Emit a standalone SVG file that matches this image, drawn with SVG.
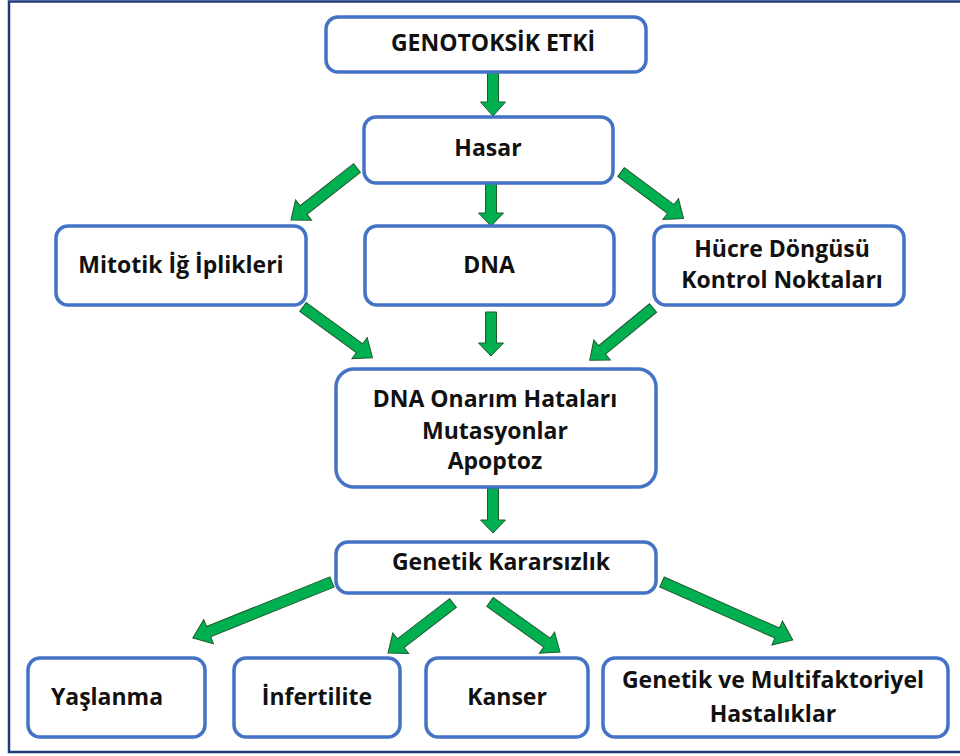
<svg xmlns="http://www.w3.org/2000/svg" width="960" height="756" viewBox="0 0 960 756">
<style>
.box{fill:#fff;stroke:#4472C4;stroke-width:3.5}
.t{font-family:"Open Sans","Liberation Sans",sans-serif;font-weight:bold;font-size:23px;fill:#111;text-anchor:middle}
.arr{fill:#00B050;stroke:#1e5a2e;stroke-width:1}
</style>
<rect x="0" y="0" width="960" height="756" fill="#fff"/>
<rect x="9" y="1.5" width="960" height="750.5" fill="none" stroke="#1F3A7A" stroke-width="2.5"/>
<g id="connectors">
<polygon class="arr" transform="translate(493,72) rotate(90)" points="0,-5.5 30,-5.5 30,-12.5 44,0 30,12.5 30,5.5 0,5.5"/>
<polygon class="arr" transform="translate(357,168) rotate(141.8)" points="0,-5.5 68,-5.5 68,-13 84,0 68,13 68,5.5 0,5.5"/>
<polygon class="arr" transform="translate(491,183) rotate(90)" points="0,-5.5 30,-5.5 30,-12.5 43,0 30,12.5 30,5.5 0,5.5"/>
<polygon class="arr" transform="translate(621,172) rotate(36.7)" points="0,-5.5 62,-5.5 62,-13 78,0 62,13 62,5.5 0,5.5"/>
<polygon class="arr" transform="translate(303,307) rotate(36.1)" points="0,-5.5 70,-5.5 70,-13 86,0 70,13 70,5.5 0,5.5"/>
<polygon class="arr" transform="translate(491,312) rotate(90)" points="0,-5.5 31,-5.5 31,-12.5 44,0 31,12.5 31,5.5 0,5.5"/>
<polygon class="arr" transform="translate(653,308) rotate(140.5)" points="0,-5.5 66,-5.5 66,-13 82,0 66,13 66,5.5 0,5.5"/>
<polygon class="arr" transform="translate(493,488) rotate(90)" points="0,-5.5 32,-5.5 32,-12.5 45,0 32,12.5 32,5.5 0,5.5"/>
<polygon class="arr" transform="translate(332,582) rotate(158.1)" points="0,-5.5 133,-5.5 133,-13 150,0 133,13 133,5.5 0,5.5"/>
<polygon class="arr" transform="translate(453,603) rotate(142.4)" points="0,-5.5 66,-5.5 66,-13 82,0 66,13 66,5.5 0,5.5"/>
<polygon class="arr" transform="translate(490,602) rotate(35.5)" points="0,-5.5 70,-5.5 70,-13 86,0 70,13 70,5.5 0,5.5"/>
<polygon class="arr" transform="translate(662,582) rotate(23.9)" points="0,-5.5 126,-5.5 126,-13 143,0 126,13 126,5.5 0,5.5"/>
</g>
<g id="genotoksik">
<rect class="box" x="326" y="17" width="320" height="55" rx="12"/>
<text class="t" x="493" y="51">GENOTOKSİK ETKİ</text>
</g>
<g id="hasar">
<rect class="box" x="364" y="117" width="249" height="66" rx="12"/>
<text class="t" x="488" y="156">Hasar</text>
</g>
<g id="mitotik">
<rect class="box" x="56" y="226" width="250" height="79" rx="12"/>
<text class="t" x="181" y="273">Mitotik İğ İplikleri</text>
</g>
<g id="dna">
<rect class="box" x="365" y="226" width="249" height="79" rx="12"/>
<text class="t" x="489" y="273">DNA</text>
</g>
<g id="hucre">
<rect class="box" x="654" y="226" width="250" height="79" rx="12"/>
<text class="t" x="782" y="257">Hücre Döngüsü</text>
<text class="t" x="782" y="288">Kontrol Noktaları</text>
</g>
<g id="onarim">
<rect class="box" x="336" y="369" width="320" height="118" rx="18"/>
<text class="t" x="495" y="407">DNA Onarım Hataları</text>
<text class="t" x="495" y="439">Mutasyonlar</text>
<text class="t" x="495" y="469">Apoptoz</text>
</g>
<g id="kararsizlik">
<rect class="box" x="336" y="542" width="320" height="51" rx="12"/>
<text class="t" x="501" y="570">Genetik Kararsızlık</text>
</g>
<g id="yaslanma">
<rect class="box" x="28" y="658" width="177" height="79" rx="12"/>
<text class="t" x="107" y="705">Yaşlanma</text>
</g>
<g id="infertilite">
<rect class="box" x="234" y="658" width="166" height="79" rx="12"/>
<text class="t" x="317" y="705">İnfertilite</text>
</g>
<g id="kanser">
<rect class="box" x="426" y="658" width="162" height="79" rx="12"/>
<text class="t" x="507" y="705">Kanser</text>
</g>
<g id="multifaktoriyel">
<rect class="box" x="603" y="658" width="345" height="79" rx="12"/>
<text class="t" x="773" y="688">Genetik ve Multifaktoriyel</text>
<text class="t" x="773" y="722">Hastalıklar</text>
</g>
</svg>
